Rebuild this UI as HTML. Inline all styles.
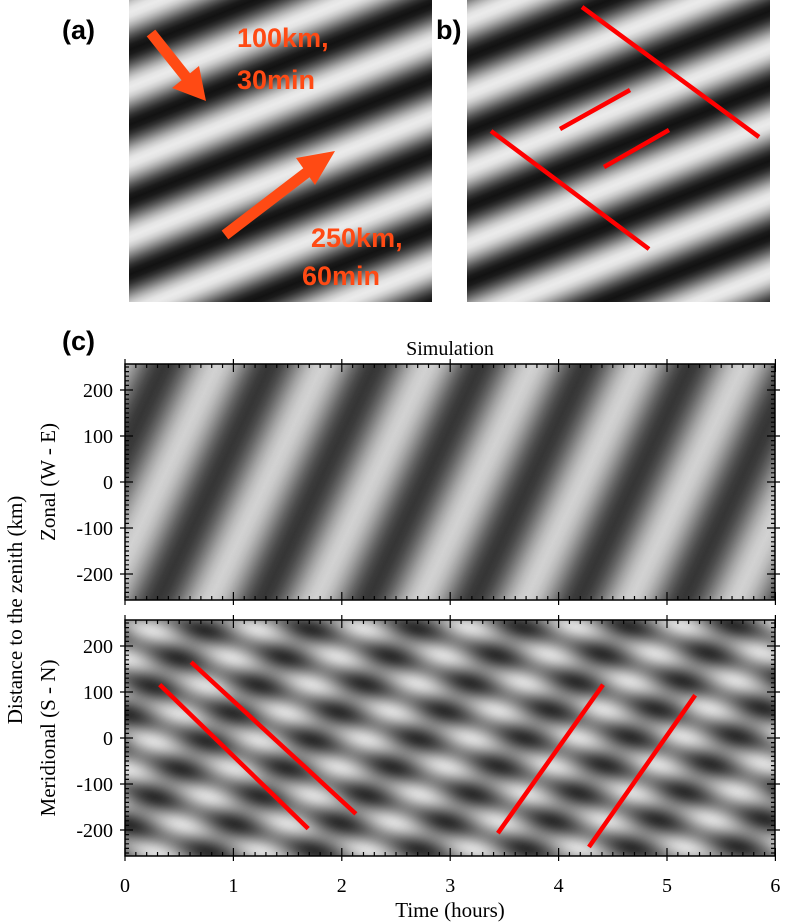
<!DOCTYPE html>
<html><head><meta charset="utf-8"><style>
html,body{margin:0;padding:0;background:#fff;}
svg{display:block;}
</style></head><body>
<svg id="fig" width="789" height="923" xmlns="http://www.w3.org/2000/svg">
<defs>
  <linearGradient id="gA" gradientUnits="userSpaceOnUse" x1="129" y1="50" x2="154.8" y2="114.6" spreadMethod="repeat"></linearGradient>
  <linearGradient id="gB" gradientUnits="userSpaceOnUse" x1="467" y1="57" x2="492.8" y2="121.6" spreadMethod="repeat"></linearGradient>
  <filter id="grain" x="0" y="0" width="1" height="1">
    <feTurbulence type="fractalNoise" baseFrequency="0.9" numOctaves="1" seed="3" result="n"/>
    <feColorMatrix in="n" type="matrix" values="0 0 0 0 0.5  0 0 0 0 0.5  0 0 0 0 0.5  0 0 0 0.18 0" result="g"/>
    <feComposite in="g" in2="SourceGraphic" operator="atop"/>
  </filter>
</defs>

<!-- Panel a -->
<text x="62" y="39" font-family="Liberation Sans, sans-serif" font-weight="bold" font-size="27">(a)</text>
<rect x="129" y="0" width="303" height="302" fill="url(#gA)"/>
<g fill="#ff4a14">
  <line x1="151" y1="33" x2="190" y2="82" stroke="#ff4a14" stroke-width="11"/>
  <polygon points="206,101 172,88 199,66"/>
  <line x1="225" y1="235" x2="310" y2="170" stroke="#ff4a14" stroke-width="11"/>
  <polygon points="335,151 296,158 315,185"/>
</g>
<g font-family="Liberation Sans, sans-serif" font-weight="bold" font-size="27" fill="#ff4a14">
  <text x="237" y="47">100km,</text>
  <text x="237" y="89">30min</text>
  <text x="311" y="247">250km,</text>
  <text x="302" y="285">60min</text>
</g>

<!-- Panel b -->
<text x="436" y="39" font-family="Liberation Sans, sans-serif" font-weight="bold" font-size="27">b)</text>
<rect x="467" y="0" width="303" height="302" fill="url(#gB)"/>
<g stroke="#ff0000" stroke-width="4.5">
  <line x1="582" y1="7" x2="759" y2="137"/>
  <line x1="491" y1="131" x2="649" y2="249"/>
  <line x1="560" y1="129" x2="630" y2="90"/>
  <line x1="604" y1="167" x2="669" y2="130"/>
</g>

<!-- Panel c -->
<text x="62" y="350" font-family="Liberation Sans, sans-serif" font-weight="bold" font-size="27">(c)</text>
<text x="450" y="355" text-anchor="middle" font-family="Liberation Serif, serif" font-size="20">Simulation</text>
<g id="plots"></g>
<text transform="translate(22,610) rotate(-90)" text-anchor="middle" font-family="Liberation Serif, serif" font-size="21">Distance to the zenith (km)</text>
<text transform="translate(55,482) rotate(-90)" text-anchor="middle" font-family="Liberation Serif, serif" font-size="21">Zonal (W - E)</text>
<text transform="translate(55,738) rotate(-90)" text-anchor="middle" font-family="Liberation Serif, serif" font-size="21">Meridional (S - N)</text>
<text x="450" y="917" text-anchor="middle" font-family="Liberation Serif, serif" font-size="21">Time (hours)</text>
</svg>
<script>
// ---- data ----
const xTicks = [0, 1, 2, 3, 4, 5, 6];
const yTicks = [200, 100, 0, -100, -200];
// waves: period (hours), speed (km/h), time of dark crest at 0 km (hours)
const zonalPeriods = [0.97];
const zonalSpeeds = [492];
const zonalPhases = [0.82];
const meridPeriods = [1.005, 0.969];
const meridSpeeds = [-79.5, 254];
const meridPhases = [0.665, 0.78];
// red guide lines in meridional panel: [t1, km1, t2, km2]
const lineT1 = [0.32, 0.61, 3.44, 4.28];
const lineK1 = [116, 165, -207, -237];
const lineT2 = [1.69, 2.13, 4.41, 5.26];
const lineK2 = [-197, -165, 116, 93];

// ---- axes ----
const NS = 'http://www.w3.org/2000/svg';
const X0 = 125, SX = 108.4, XR = 775;
const SY = 0.46;
const panels = [
  {top: 364, bot: 600, zero: 482, name: 'zonal'},
  {top: 620, bot: 856, zero: 738, name: 'meridional'}
];
function xs(t){ return X0 + t*SX; }
function ys(p, km){ return p.zero - km*SY; }
function mk(tag, attrs, parent){
  const e = document.createElementNS(NS, tag);
  for (const k in attrs) e.setAttribute(k, attrs[k]);
  parent.appendChild(e); return e;
}
const root = document.getElementById('plots');
const defs = document.querySelector('defs');

function addStops(g, lo, hi){
  for (let i = 0; i <= 16; i++){
    const f = i/16;
    const v = 0.5 - 0.5*Math.cos(2*Math.PI*f);
    const c = Math.round(lo + (hi-lo)*v);
    mk('stop', {offset: f, 'stop-color': `rgb(${c},${c},${c})`}, g);
  }
}
addStops(document.getElementById('gA'), 18, 235);
addStops(document.getElementById('gB'), 18, 235);

function waveGradient(id, p, period, speed, phase, lo, hi){
  const gx = 1/(SX*period), gy = 1/(SY*speed*period);
  const n2 = gx*gx + gy*gy;
  const vx = gx/n2, vy = gy/n2;
  const px = xs(phase), py = p.zero;
  const g = mk('linearGradient', {id: id, gradientUnits: 'userSpaceOnUse', spreadMethod: 'repeat',
    x1: px, y1: py, x2: px+vx, y2: py+vy}, defs);
  addStops(g, lo, hi);
}

panels.forEach((p, pi) => {
  const g = mk('g', {}, root);
  
  
  const per = pi === 0 ? zonalPeriods : meridPeriods;
  const spd = pi === 0 ? zonalSpeeds : meridSpeeds;
  const ph = pi === 0 ? zonalPhases : meridPhases;
  per.forEach((P, i) => {
    const id = 'w' + pi + '_' + i;
    if (pi === 0) waveGradient(id, p, P, spd[i], ph[i], 15, 240);
    else waveGradient(id, p, P, spd[i], ph[i], 0, 255);
    const r = mk('rect', {x: X0, y: p.top, width: XR - X0, height: p.bot - p.top,
      fill: 'url(#' + id + ')', opacity: i === 0 ? 1 : 0.5}, g);
    
    
  });
  const gr = mk('rect', {x: X0, y: p.top, width: XR - X0, height: p.bot - p.top, fill: '#888', filter: 'url(#grain)', opacity: 0.3}, g);
  
  
  const fr = mk('rect', {x: X0, y: p.top, width: XR - X0, height: p.bot - p.top, fill: 'none', stroke: '#000', 'stroke-width': 1.5}, g);
  
  
  let d = '';
  for (let k = 0; k <= 60; k++){
    const x = xs(k/10), L = (k % 10 === 0) ? 8 : 4;
    d += `M${x},${p.top}v${L}M${x},${p.bot}v${-L}`;
    if (k % 10 === 0) d += `M${x},${p.top}v-5M${x},${p.bot}v5`;
  }
  for (let km = -250; km <= 250; km += 10){
    const y = ys(p, km), L = (km % 100 === 0) ? 8 : 4;
    d += `M${X0},${y}h${L}M${XR},${y}h${-L}`;
    if (km % 100 === 0) d += `M${X0},${y}h-5M${XR},${y}h5`;
  }
  const tk = mk('path', {d: d, stroke: '#000', 'stroke-width': 1.2, fill: 'none'}, g);
  
  
  yTicks.forEach(v => {
    const t = mk('text', {x: 113, y: ys(p, v) + 7, 'text-anchor': 'end', 'font-family': 'Liberation Serif, serif', 'font-size': 20}, g);
    t.textContent = v;
    
    
  });
});

xTicks.forEach(v => {
  const t = mk('text', {x: xs(v), y: 892, 'text-anchor': 'middle', 'font-family': 'Liberation Serif, serif', 'font-size': 20}, root);
  t.textContent = v;
  
  
});

const mp = panels[1];
lineT1.forEach((t1, i) => {
  const l = mk('line', {x1: xs(t1), y1: ys(mp, lineK1[i]), x2: xs(lineT2[i]), y2: ys(mp, lineK2[i]), stroke: '#ff0000', 'stroke-width': 4.5}, root);
  
  
});
</script>
</body></html>
